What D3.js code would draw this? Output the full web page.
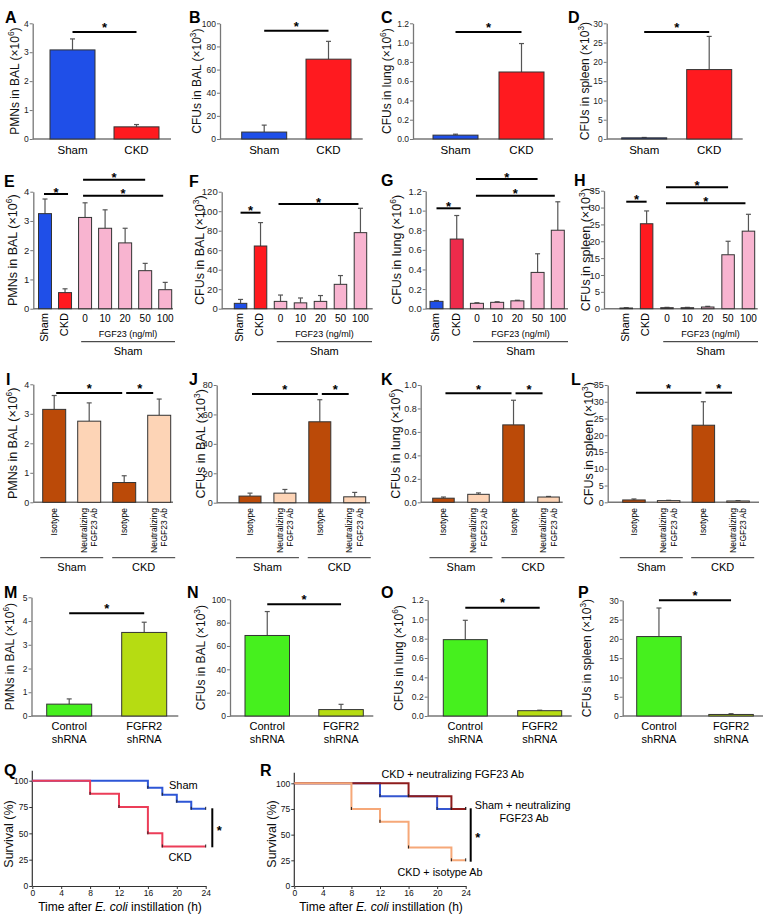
<!DOCTYPE html>
<html>
<head>
<meta charset="utf-8">
<script src="https://cdn.jsdelivr.net/npm/d3@7"></script>
<style>
body { margin: 0; background: #fff; }
svg { font-family: "Liberation Sans", Arial, Helvetica, sans-serif; }
</style>
</head>
<body>
<svg id="fig" width="764" height="921"></svg>
<script>
// ---- data ----
var shamCkd = ["Sham", "CKD"];
var doseCats = ["Sham", "CKD", "0", "10", "20", "50", "100"];
var abCats = ["Sham Isotype", "Sham Neutralizing", "CKD Isotype", "CKD Neutralizing"];
var shCats = ["Control", "FGFR2"];

// row 1 (A-D): mean and SEM
var pmnA = [3.08, 0.42], pmnAErr = [0.38, 0.08];
var cfuBalB = [6, 69], cfuBalBErr = [6, 15.4];
var cfuLungC = [0.04, 0.695], cfuLungCErr = [0.01, 0.295];
var cfuSpleenD = [0.3, 18], cfuSpleenDErr = [0.1, 8.6];

// row 2 (E-H): Sham, CKD, FGF23 0/10/20/50/100 ng/ml
var pmnE = [3.25, 0.55, 3.12, 2.75, 2.25, 1.3, 0.65], pmnEErr = [0.5, 0.13, 0.5, 0.63, 0.5, 0.25, 0.25];
var cfuBalF = [5.5, 64.3, 7.5, 6, 7.5, 25, 78], cfuBalFErr = [4, 24, 6.5, 5, 6, 9, 25];
var cfuLungG = [0.075, 0.71, 0.055, 0.065, 0.08, 0.37, 0.80], cfuLungGErr = [0.008, 0.24, 0.006, 0.006, 0.006, 0.19, 0.29];
var cfuSpleenH = [0.2, 25.2, 0.3, 0.3, 0.5, 16, 23], cfuSpleenHErr = [0.1, 3.8, 0.1, 0.1, 0.2, 4, 5];

// row 3 (I-L): isotype / neutralizing FGF23 Ab
var pmnI = [3.15, 2.75, 0.67, 2.95], pmnIErr = [0.47, 0.62, 0.23, 0.55];
var cfuBalJ = [4.5, 6.5, 55, 4], cfuBalJErr = [2, 2.5, 15, 3];
var cfuLungK = [0.035, 0.068, 0.66, 0.045], cfuLungKErr = [0.01, 0.012, 0.21, 0.005];
var cfuSpleenL = [0.7, 0.5, 23, 0.4], cfuSpleenLErr = [0.3, 0.1, 7, 0.1];

// row 4 (M-P): control vs FGFR2 shRNA
var pmnM = [0.5, 3.52], pmnMErr = [0.22, 0.43];
var cfuBalN = [69, 5.5], cfuBalNErr = [20.5, 4.5];
var cfuLungO = [0.79, 0.055], cfuLungOErr = [0.2, 0.005];
var cfuSpleenP = [20.6, 0.4], cfuSpleenPErr = [7.4, 0.2];

// survival curves (time h, survival %)
var qShamT = [0, 16, 18, 20, 22, 24], qShamS = [100, 93.3, 86.7, 80, 73.3, 73.3];
var qCkdT = [0, 8, 12, 16, 18, 24], qCkdS = [100, 87.5, 75, 50, 37.5, 37.5];
var rShamAbT = [0, 12, 20, 24], rShamAbS = [100, 87.5, 75, 75];
var rCkdAbT = [0, 16, 22, 24], rCkdAbS = [100, 87.5, 75, 75];
var rCkdIsoT = [0, 8, 12, 16, 22, 24], rCkdIsoS = [100, 75, 62.5, 37.5, 25, 25];
var kmTicks = [0, 4, 8, 12, 16, 20, 24];
var survTicks = [0, 25, 50, 75, 100];

// colours
var cBlue = "#1f4fe8", cRed = "#ff1a1f", cCrimson = "#ee2b4b", cPink = "#f8b4d0";
var cBrown = "#bb4a08", cPeach = "#fdd4b6", cGreen = "#46f01e", cLime = "#b6dc12";

var narrow = "'Liberation Sans Narrow', 'Arial Narrow', 'Liberation Sans', Arial, sans-serif";
var svg = d3.select("#fig");

function letter(x, y, t) {
  svg.append("text").attr("x", x).attr("y", y).attr("font-size", 16)
    .attr("font-weight", "bold").attr("fill", "#000").text(t);
}

// rotated axis title with a superscript exponent
function yTitle(x, y, base, exp, size) {
  var t = svg.append("text").attr("transform", "translate(" + x + "," + y + ") rotate(-90)")
    .attr("text-anchor", "middle").attr("dy", "0.35em").attr("font-size", size).attr("fill", "#111");
  t.append("tspan").text(base);
  if (exp) {
    t.append("tspan").attr("font-size", size * 0.68).attr("dy", -size * 0.42).text(exp);
    t.append("tspan").attr("dy", size * 0.42).text(")");
  }
}

function barPanel(p) {
  var g = svg.append("g");
  var n = p.cats.length;
  var step = (p.bx[1] - p.bx[0] - p.bw) / (n - 1);
  var pad = 1 - p.bw / step;
  var x = d3.scaleBand().domain(p.cats)
    .range([p.bx[0] - (step - p.bw) / 2, p.bx[1] + (step - p.bw) / 2])
    .paddingInner(pad).paddingOuter(pad / 2);
  var y = d3.scaleLinear().domain([0, p.max]).range([p.y0, p.y1]);

  var axis = d3.axisLeft(y).tickValues(d3.range(0, p.max + p.tick / 2, p.tick))
    .tickFormat(d3.format(p.fmt)).tickSize(3).tickSizeOuter(0).tickPadding(1);
  var ag = g.append("g").attr("transform", "translate(" + p.ax + ",0)").call(axis);
  ag.select(".domain").attr("stroke", "#777").attr("stroke-width", 1.3);
  ag.selectAll(".tick line").attr("stroke", "#777");
  ag.selectAll(".tick text").attr("font-size", p.tf).attr("fill", "#222").attr("font-family", narrow);

  g.append("line").attr("x1", p.ax).attr("x2", p.xEnd).attr("y1", p.y0).attr("y2", p.y0)
    .attr("stroke", "#777").attr("stroke-width", 1.5);

  // error bars (upper only)
  p.cats.forEach(function(c, i) {
    var cx = x(c) + x.bandwidth() / 2;
    var top = y(p.vals[i] + p.err[i]);
    g.append("line").attr("x1", cx).attr("x2", cx).attr("y1", y(p.vals[i])).attr("y2", top)
      .attr("stroke", "#555").attr("stroke-width", 1.2);
    g.append("line").attr("x1", cx - 2.5).attr("x2", cx + 2.5).attr("y1", top).attr("y2", top)
      .attr("stroke", "#555").attr("stroke-width", 1.2);
  });

  g.selectAll("rect.bar").data(p.vals).enter().append("rect")
    .attr("x", function(d, i) { return x(p.cats[i]); })
    .attr("y", function(d) { return y(d); })
    .attr("width", x.bandwidth())
    .attr("height", function(d) { return p.y0 - y(d); })
    .attr("fill", function(d, i) { return p.colors[i]; })
    .attr("stroke", "#333").attr("stroke-width", 1);

  // significance lines
  (p.sig || []).forEach(function(s) {
    var x1 = x(p.cats[s[0]]) + x.bandwidth() / 2 + (s[3] || 0);
    var x2 = x(p.cats[s[1]]) + x.bandwidth() / 2 + (s[4] || 0);
    g.append("line").attr("x1", x1).attr("x2", x2).attr("y1", s[2]).attr("y2", s[2])
      .attr("stroke", "#000").attr("stroke-width", 2);
    g.append("text").attr("x", (x1 + x2) / 2).attr("y", s[2] - p.starOff + 7)
      .attr("text-anchor", "middle").attr("font-size", 13).attr("font-weight", "bold").text("*");
  });

  letter(p.letterXY[0], p.letterXY[1], p.letter);
  yTitle(p.titleX, (p.y0 + p.y1) / 2, p.title, p.exp, p.titleSize);
  return x;
}

// ---- row 1 ----
var row1 = { y0: 139, y1: 23.3, tf: 8.5, titleSize: 12, starOff: 7, cats: shamCkd, colors: [cBlue, cRed] };
var panelsRow1 = [
  { letter: "A", letterXY: [5, 23], ax: 32.7, xEnd: 171, bx: [50, 159], bw: 45, max: 4, tick: 1, fmt: "d",
    titleX: 15, title: "PMNs in BAL (×10", exp: "6", vals: pmnA, err: pmnAErr, sig: [[0, 1, 32]] },
  { letter: "B", letterXY: [189, 23], ax: 220, xEnd: 362.7, bx: [241.7, 351], bw: 45, max: 100, tick: 20, fmt: "d",
    titleX: 197, title: "CFUs in BAL (×10", exp: "3", vals: cfuBalB, err: cfuBalBErr, sig: [[0, 1, 30.7]] },
  { letter: "C", letterXY: [381, 23], ax: 413, xEnd: 553, bx: [433, 544], bw: 45, max: 1.2, tick: 0.2, fmt: ".1f",
    titleX: 387, title: "CFUs in lung (×10", exp: "6", vals: cfuLungC, err: cfuLungCErr, sig: [[0, 1, 32]] },
  { letter: "D", letterXY: [568, 23], ax: 606.7, xEnd: 742.7, bx: [621.7, 731.7], bw: 45, max: 30, tick: 5, fmt: "d",
    titleX: 585, title: "CFUs in spleen (×10", exp: "3", vals: cfuSpleenD, err: cfuSpleenDErr, sig: [[0, 1, 32]] }
];
panelsRow1.forEach(function(p) {
  var x = barPanel(Object.assign({}, row1, p));
  shamCkd.forEach(function(c) {
    svg.append("text").attr("x", x(c) + x.bandwidth() / 2).attr("y", 154).attr("text-anchor", "middle")
      .attr("font-size", 11.5).text(c);
  });
});

// ---- row 2 ----
var row2 = { y0: 308.7, tf: 9.5, titleSize: 12.5, starOff: 4.5, cats: doseCats };
var pinks = [cPink, cPink, cPink, cPink, cPink];
var panelsRow2 = [
  { letter: "E", letterXY: [4, 187], ax: 33.3, xEnd: 173, y1: 191.7, bx: [38.5, 171.7], bw: 13, max: 4, tick: 1, fmt: "d",
    titleX: 13, title: "PMNs in BAL (×10", exp: "6", vals: pmnE, err: pmnEErr, colors: [cBlue, cRed].concat(pinks),
    sig: [[0, 1, 194, -1, 3], [2, 5, 179.7, -2], [2, 6, 195.7, -2, -2]], lineEnd: 175 },
  { letter: "F", letterXY: [189, 187], ax: 221.7, xEnd: 372.7, y1: 191.7, bx: [234.3, 366.7], bw: 12.5, max: 120, tick: 20, fmt: "d",
    titleX: 200, title: "CFUs in BAL (×10", exp: "3", vals: cfuBalF, err: cfuBalFErr, colors: [cBlue, cRed].concat(pinks),
    sig: [[0, 1, 212.7], [2, 6, 204, -2, -2]], lineEnd: 372 },
  { letter: "G", letterXY: [381, 186], ax: 425.7, xEnd: 568, y1: 191, bx: [430, 564.3], bw: 13, max: 1.2, tick: 0.2, fmt: ".1f",
    titleX: 397, title: "CFUs in lung (×10", exp: "6", vals: cfuLungG, err: cfuLungGErr, colors: [cBlue, cCrimson].concat(pinks),
    sig: [[0, 1, 208.3, 0, 4], [2, 5, 179, -1], [2, 6, 195.7, -1, -3]], lineEnd: 568 },
  { letter: "H", letterXY: [574, 186], ax: 604, xEnd: 757.7, y1: 190.7, bx: [620, 754.7], bw: 12.5, max: 35, tick: 5, fmt: "d",
    titleX: 586, title: "CFUs in spleen (×10", exp: "3", vals: cfuSpleenH, err: cfuSpleenHErr, colors: [cBlue, cRed].concat(pinks),
    sig: [[0, 1, 201.7], [2, 5, 187.3, -1], [2, 6, 203.3, -1, -3]], lineEnd: 758 }
];
panelsRow2.forEach(function(p) {
  var x = barPanel(Object.assign({}, row2, p));
  var bw = x.bandwidth();
  doseCats.forEach(function(c, i) {
    var cx = x(c) + bw / 2;
    if (i < 2) {
      svg.append("text").attr("transform", "translate(" + (cx - 1) + ",313) rotate(-90)")
        .attr("text-anchor", "end").attr("dy", "0.35em").attr("font-size", 11).text(c);
    } else {
      svg.append("text").attr("x", cx).attr("y", 322).attr("text-anchor", "middle").attr("font-size", 10).text(c);
    }
  });
  var lx1 = x("0") + bw * 0.2;
  svg.append("text").attr("x", (lx1 + p.lineEnd) / 2).attr("y", 336.5).attr("text-anchor", "middle")
    .attr("font-size", 9).text("FGF23 (ng/ml)");
  svg.append("line").attr("x1", lx1).attr("x2", p.lineEnd).attr("y1", 341.7).attr("y2", 341.7)
    .attr("stroke", "#222").attr("stroke-width", 1);
  svg.append("text").attr("x", (lx1 + p.lineEnd) / 2).attr("y", 354.5).attr("text-anchor", "middle")
    .attr("font-size", 11).text("Sham");
});

// ---- row 3 ----
var row3 = { tf: 9, titleSize: 12.5, starOff: 6.6, cats: abCats, colors: [cBrown, cPeach, cBrown, cPeach] };
var panelsRow3 = [
  { letter: "I", letterXY: [6, 385], ax: 33.3, xEnd: 173, y0: 502.3, y1: 384.3, bx: [42.7, 170.7], bw: 23, max: 4, tick: 1, fmt: "d",
    titleX: 13, title: "PMNs in BAL (×10", exp: "6", vals: pmnI, err: pmnIErr, sig: [[0, 2, 393, 2, -2], [2, 3, 393, 2, -6]] },
  { letter: "J", letterXY: [189, 385], ax: 216.7, xEnd: 370, y0: 502.7, y1: 385, bx: [239, 365.7], bw: 22, max: 80, tick: 20, fmt: "d",
    titleX: 201, title: "CFUs in BAL (×10", exp: "3", vals: cfuBalJ, err: cfuBalJErr, sig: [[0, 2, 394, 2, -2], [2, 3, 394, 2, -6]] },
  { letter: "K", letterXY: [381, 385], ax: 420.7, xEnd: 562.7, y0: 502.3, y1: 385, bx: [432.7, 559.3], bw: 21.5, max: 1.0, tick: 0.2, fmt: ".1f",
    titleX: 396, title: "CFUs in lung (×10", exp: "6", vals: cfuLungK, err: cfuLungKErr, sig: [[0, 2, 393.3, 2, -2], [2, 3, 393.3, 2, -6]] },
  { letter: "L", letterXY: [571, 385], ax: 607.7, xEnd: 759, y0: 502.3, y1: 385, bx: [622.7, 749.3], bw: 22.5, max: 35, tick: 5, fmt: "d",
    titleX: 589, title: "CFUs in spleen (×10", exp: "3", vals: cfuSpleenL, err: cfuSpleenLErr, sig: [[0, 2, 392.7, 2, -2], [2, 3, 392.7, 2, -6]] }
];
panelsRow3.forEach(function(p) {
  var x = barPanel(Object.assign({}, row3, p));
  var bw = x.bandwidth();
  abCats.forEach(function(c, i) {
    var cx = x(c) + bw / 2;
    var lines = i % 2 === 0 ? ["Isotype"] : ["Neutralizing", "FGF23 Ab"];
    lines.forEach(function(t, k) {
      var lx = cx + (lines.length === 1 ? 0 : (k === 0 ? -5.3 : 5.3));
      svg.append("text").attr("transform", "translate(" + lx + ",508) rotate(-90)")
        .attr("text-anchor", "end").attr("dy", "0.35em").attr("font-size", 8.5).text(t);
    });
  });
  ["Sham", "CKD"].forEach(function(gname, k) {
    var mid = (x(abCats[k * 2]) + x(abCats[k * 2 + 1]) + bw) / 2 + (k === 0 ? 0 : 2);
    svg.append("line").attr("x1", mid - 31.5).attr("x2", mid + 31.5).attr("y1", 557.7).attr("y2", 557.7)
      .attr("stroke", "#333").attr("stroke-width", 1);
    svg.append("text").attr("x", mid).attr("y", 570.5).attr("text-anchor", "middle").attr("font-size", 11).text(gname);
  });
});

// ---- row 4 ----
var row4 = { y0: 716, tf: 8.5, titleSize: 12, starOff: 7.8, cats: shCats, colors: [cGreen, cLime] };
var panelsRow4 = [
  { letter: "M", letterXY: [4, 598], ax: 31.5, xEnd: 178.3, y1: 597.3, bx: [46.7, 166.7], bw: 45, max: 5, tick: 1, fmt: "d",
    titleX: 10, title: "PMNs in BAL (×10", exp: "6", vals: pmnM, err: pmnMErr, sig: [[0, 1, 613.3]] },
  { letter: "N", letterXY: [187, 598], ax: 230, xEnd: 373.3, y1: 599.3, bx: [245, 363.3], bw: 44.5, max: 100, tick: 20, fmt: "d",
    titleX: 201, title: "CFUs in BAL (×10", exp: "3", vals: cfuBalN, err: cfuBalNErr, sig: [[0, 1, 604.3]] },
  { letter: "O", letterXY: [381, 598], ax: 427.7, xEnd: 571.7, y1: 600, bx: [443.3, 561.7], bw: 44, max: 1.2, tick: 0.2, fmt: ".1f",
    titleX: 399, title: "CFUs in lung (×10", exp: "6", vals: cfuLungO, err: cfuLungOErr, sig: [[0, 1, 607.7]] },
  { letter: "P", letterXY: [578, 598], ax: 622.7, xEnd: 763, y1: 600.3, bx: [636.7, 753.3], bw: 44.5, max: 30, tick: 5, fmt: "d",
    titleX: 587, title: "CFUs in spleen (×10", exp: "3", vals: cfuSpleenP, err: cfuSpleenPErr, sig: [[0, 1, 600.3]] }
];
panelsRow4.forEach(function(p) {
  var x = barPanel(Object.assign({}, row4, p));
  shCats.forEach(function(c) {
    var cx = x(c) + x.bandwidth() / 2;
    svg.append("text").attr("x", cx).attr("y", 730).attr("text-anchor", "middle").attr("font-size", 11).text(c);
    svg.append("text").attr("x", cx).attr("y", 742.5).attr("text-anchor", "middle").attr("font-size", 11).text("shRNA");
  });
});

// ---- survival panels ----
function kmPanel(p) {
  var g = svg.append("g");
  var x = d3.scaleLinear().domain([0, 24]).range(p.xr);
  var y = d3.scaleLinear().domain([0, 100]).range([886, p.y100]);
  var ya = d3.axisLeft(y).tickValues(survTicks).tickSize(3).tickSizeOuter(0).tickPadding(1);
  var yg = g.append("g").attr("transform", "translate(" + p.xr[0] + ",0)").call(ya);
  yg.select(".domain").remove();
  g.append("line").attr("x1", p.xr[0]).attr("x2", p.xr[0]).attr("y1", 886).attr("y2", p.yTop)
    .attr("stroke", "#333").attr("stroke-width", 1.2);
  var xa = d3.axisBottom(x).tickValues(kmTicks).tickSize(3).tickSizeOuter(0).tickPadding(1);
  var xg = g.append("g").attr("transform", "translate(0,886)").call(xa);
  [yg, xg].forEach(function(a) {
    a.selectAll(".tick line").attr("stroke", "#333");
    a.selectAll(".tick text").attr("font-size", 8.5).attr("fill", "#111").attr("font-family", narrow);
  });
  xg.select(".domain").attr("stroke", "#333").attr("stroke-width", 1.2);

  var line = d3.line().x(function(d) { return x(d[0]); }).y(function(d) { return y(d[1]); }).curve(d3.curveStepAfter);
  p.curves.forEach(function(c) {
    var pts = d3.zip(c.t, c.s);
    g.append("path").attr("d", line(pts)).attr("fill", "none").attr("stroke", c.color).attr("stroke-width", 2);
    // small black marks at each step and at the end
    pts.slice(1).forEach(function(d) {
      g.append("line").attr("x1", x(d[0])).attr("x2", x(d[0])).attr("y1", y(d[1]) - 2).attr("y2", y(d[1]) + 1)
        .attr("stroke", "#222").attr("stroke-width", 1);
    });
  });

  // significance bracket
  g.append("line").attr("x1", p.brX).attr("x2", p.brX).attr("y1", p.br[0]).attr("y2", p.br[1])
    .attr("stroke", "#000").attr("stroke-width", 2);
  g.append("text").attr("x", p.brX + 7).attr("y", (p.br[0] + p.br[1]) / 2 + 7).attr("text-anchor", "middle")
    .attr("font-size", 13).attr("font-weight", "bold").text("*");

  p.labels.forEach(function(l) {
    g.append("text").attr("x", l[0]).attr("y", l[1]).attr("text-anchor", "middle").attr("font-size", p.labelSize).text(l[2]);
  });

  letter(p.letterXY[0], p.letterXY[1], p.letter);
  var tt = svg.append("text").attr("x", (p.xr[0] + p.xr[1]) / 2 + 1).attr("y", 911).attr("text-anchor", "middle")
    .attr("font-size", 12);
  tt.append("tspan").text("Time after ");
  tt.append("tspan").attr("font-style", "italic").text("E. coli");
  tt.append("tspan").text(" instillation (h)");
  yTitle(p.titleX, 834, "Survival (%)", null, 12.5);
}

kmPanel({
  letter: "Q", letterXY: [4, 776], xr: [32.3, 205.7], y100: 780.7, yTop: 770.7, titleX: 9, labelSize: 11,
  curves: [
    { t: qShamT, s: qShamS, color: "#2d56d6" },
    { t: qCkdT, s: qCkdS, color: "#ec3d58" }
  ],
  brX: 212.3, br: [808.3, 847.3],
  labels: [[183.3, 789, "Sham"], [180, 861, "CKD"]]
});

kmPanel({
  letter: "R", letterXY: [260, 776], xr: [294.3, 465.7], y100: 783.3, yTop: 772.7, titleX: 272, labelSize: 10.8,
  curves: [
    { t: rShamAbT, s: rShamAbS, color: "#3556d0" },
    { t: rCkdAbT, s: rCkdAbS, color: "#8e1c1c" },
    { t: rCkdIsoT, s: rCkdIsoS, color: "#f6a878" }
  ],
  brX: 470.7, br: [808.3, 861.7],
  labels: [[452.7, 778, "CKD + neutralizing FGF23 Ab"], [522.7, 809, "Sham + neutralizing"],
           [524, 821.5, "FGF23 Ab"], [440, 876, "CKD + isotype Ab"]]
});
</script>
</body>
</html>
